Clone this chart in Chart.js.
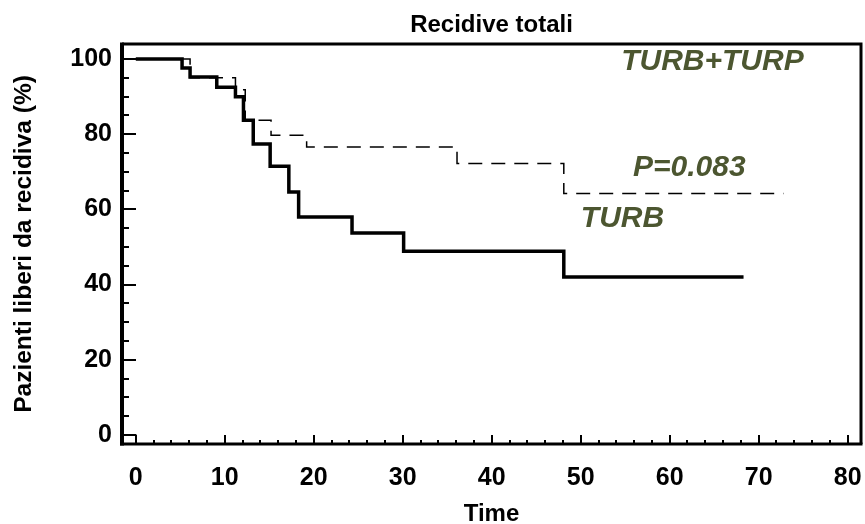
<!DOCTYPE html>
<html>
<head>
<meta charset="utf-8">
<script src="https://cdn.jsdelivr.net/npm/chart.js@4.4.1/dist/chart.umd.min.js"></script>
<style>
  html, body { margin: 0; padding: 0; background: #fff; }
  #wrap { width: 865px; height: 524px; }
</style>
</head>
<body>
<div id="wrap"><canvas id="kmChart"></canvas></div>
<script>
// Kaplan-Meier steps (time, % free of recurrence)
const turbTimes = [0, 5.2, 6.1, 9.1, 11.2, 12.1, 13.2, 15.1, 17.2, 18.3, 24.3, 30.1, 48.1, 68.3];
const turbValues = [100, 97.6, 95.2, 92.5, 90.0, 83.7, 77.4, 71.5, 64.6, 58.0, 53.7, 48.9, 42.0, 42.0];

const turbTurpTimes = [0, 6.1, 11.2, 12.3, 15.2, 19.2, 36.1, 48.1, 72.8];
const turbTurpValues = [100, 95.0, 91.8, 83.7, 79.7, 76.6, 72.2, 64.2, 64.2];

// small step drawn at the origin in the original
const originTimes = [-1.6, 0, 0];
const originValues = [0, 0, -2.4];

const xTicks = [0, 10, 20, 30, 40, 50, 60, 70, 80];
const yTicks = [0, 20, 40, 60, 80, 100];
const xMinorStep = 2;
const yMinorStep = 5;

const FONT = '"Liberation Sans", Arial, sans-serif';
const LABEL_COLOR = '#4c5630';

const toPoints = (xs, ys) => xs.map((x, i) => ({ x: x, y: ys[i] }));

// frame, inward ticks and the in-plot labels
const framePlugin = {
    id: 'frame',
    afterDatasetsDraw(chart) {
        const { ctx, chartArea: a, scales: { x, y } } = chart;
        ctx.save();
        ctx.strokeStyle = '#000';
        ctx.lineCap = 'butt';

        // ticks
        ctx.lineWidth = 2;
        for (let v = xTicks[0]; v <= xTicks[xTicks.length - 1]; v += xMinorStep) {
            const px = Math.round(x.getPixelForValue(v));
            const len = xTicks.includes(v) ? 9 : 4;
            ctx.beginPath();
            ctx.moveTo(px, a.bottom);
            ctx.lineTo(px, a.bottom - len);
            ctx.stroke();
        }
        for (let v = yTicks[0]; v <= yTicks[yTicks.length - 1]; v += yMinorStep) {
            const py = Math.round(y.getPixelForValue(v));
            const len = yTicks.includes(v) ? 14 : 7;
            ctx.beginPath();
            ctx.moveTo(a.left, py);
            ctx.lineTo(a.left + len, py);
            ctx.stroke();
        }

        // box
        ctx.lineWidth = 3;
        ctx.beginPath();
        ctx.moveTo(a.left, a.top);
        ctx.lineTo(a.right, a.top);
        ctx.lineTo(a.right, a.bottom);
        ctx.stroke();
        ctx.beginPath();
        ctx.moveTo(a.left - 2, a.bottom);
        ctx.lineTo(a.right + 1.5, a.bottom);
        ctx.stroke();
        ctx.lineWidth = 4;
        ctx.beginPath();
        ctx.moveTo(a.left, a.top - 1.5);
        ctx.lineTo(a.left, a.bottom + 1.5);
        ctx.stroke();

        // labels
        ctx.fillStyle = LABEL_COLOR;
        ctx.textAlign = 'center';
        ctx.textBaseline = 'middle';
        ctx.font = 'italic bold 30px ' + FONT;
        ctx.fillText('TURB+TURP', x.getPixelForValue(64.8), y.getPixelForValue(99.3));
        ctx.fillText('P=0.083', x.getPixelForValue(62.2), y.getPixelForValue(71.2));
        ctx.fillText('TURB', x.getPixelForValue(54.7), y.getPixelForValue(57.4));
        ctx.restore();
    }
};

new Chart(document.getElementById('kmChart'), {
    type: 'scatter',
    data: {
        datasets: [
            {
                label: 'TURB+TURP',
                data: toPoints(turbTurpTimes, turbTurpValues),
                showLine: true,
                stepped: 'before',
                borderColor: '#000',
                borderWidth: 1.5,
                borderDash: [14, 9],
                pointRadius: 0,
                fill: false,
            },
            {
                label: 'TURB',
                data: toPoints(turbTimes, turbValues),
                showLine: true,
                stepped: 'before',
                borderColor: '#000',
                borderWidth: 3.5,
                pointRadius: 0,
                fill: false,
            },
            {
                label: 'origin',
                data: toPoints(originTimes, originValues),
                showLine: true,
                stepped: 'before',
                borderColor: '#000',
                borderWidth: 1.5,
                pointRadius: 0,
                fill: false,
            }
        ]
    },
    options: {
        responsive: true,
        maintainAspectRatio: false,
        animation: false,
        layout: { padding: { top: 0, right: 4, bottom: 0, left: 0 } },
        plugins: {
            legend: { display: false },
            tooltip: { enabled: false },
            title: {
                display: true,
                text: 'Recidive totali',
                fullSize: false,
                color: '#000',
                font: { family: FONT, size: 24, weight: 'bold' },
                padding: { top: 11, bottom: 4.2 }
            }
        },
        scales: {
            x: {
                type: 'linear',
                min: -1.55,
                max: 81.5,
                afterBuildTicks: s => { s.ticks = xTicks.map(v => ({ value: v })); },
                afterFit: s => { s.height = 80; s.paddingLeft = 0; s.paddingRight = 0; },
                grid: { display: false, drawTicks: false },
                border: { display: false },
                ticks: {
                    padding: 19,
                    color: '#000',
                    maxRotation: 0,
                    font: { family: FONT, size: 25, weight: 'bold' }
                },
                title: {
                    display: true,
                    text: 'Time',
                    color: '#000',
                    font: { family: FONT, size: 24, weight: 'bold' },
                    padding: { top: 0, bottom: -5 }
                }
            },
            y: {
                type: 'linear',
                min: -2.4,
                max: 104,
                afterBuildTicks: s => { s.ticks = yTicks.map(v => ({ value: v })); },
                afterFit: s => { s.width = 122; s.paddingTop = 0; s.paddingBottom = 0; },
                grid: { display: false, drawTicks: false },
                border: { display: false },
                ticks: {
                    padding: 10,
                    color: '#000',
                    font: { family: FONT, size: 25, weight: 'bold' }
                },
                title: {
                    display: true,
                    text: 'Pazienti liberi da recidiva (%)',
                    color: '#000',
                    font: { family: FONT, size: 24.5, weight: 'bold' },
                    padding: { top: 10, bottom: 0 }
                }
            }
        }
    },
    plugins: [framePlugin]
});
</script>
</body>
</html>
